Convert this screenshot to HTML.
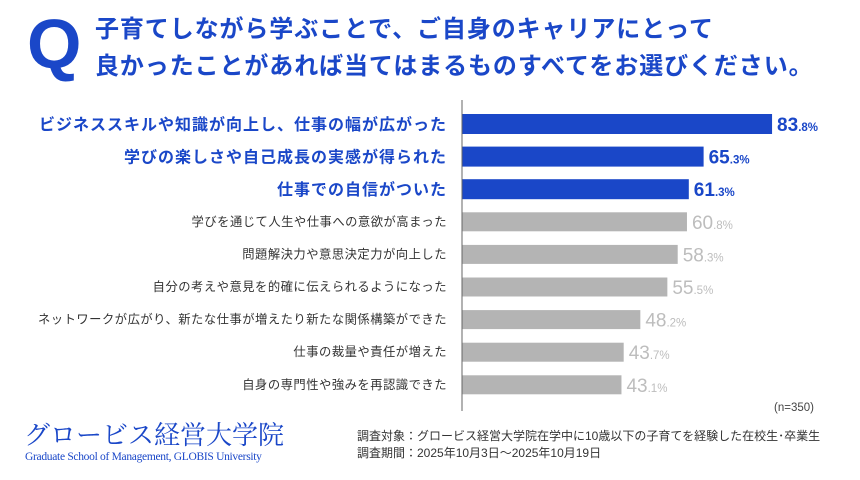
<!DOCTYPE html>
<html><head><meta charset="utf-8"><style>
body{margin:0;width:860px;height:480px;background:#fff;overflow:hidden;font-family:"Liberation Sans","Noto Sans CJK JP",sans-serif;position:relative}
.abs{position:absolute;white-space:nowrap}
</style></head><body>
<div class="abs" style="left:27px;top:2px;font-size:70px;font-weight:bold;color:#1a47c8;line-height:84px">Q</div>
<div class="abs" style="left:95px;top:11px;font-size:24px;font-weight:bold;color:#1a47c8;line-height:37px;letter-spacing:0.9px">子育てしながら学ぶことで、ご自身のキャリアにとって<br>良かったことがあれば当てはまるものすべてをお選びください。</div>
<svg id="chart" class="abs" style="left:0;top:0" width="860" height="480"></svg>
<div class="abs" style="left:774px;top:402px;font-size:11.5px;color:#444">(n=350)</div>
<div class="abs" style="left:24px;top:418px;font-family:'Noto Serif CJK SC','Liberation Serif',serif;font-size:26px;color:#1a47c8;line-height:32px">グロービス経営大学院</div>
<div class="abs" style="left:25px;top:451px;font-family:'Liberation Serif',serif;font-size:11.5px;color:#1a47c8;letter-spacing:-0.3px">Graduate School of Management, GLOBIS University</div>
<div class="abs" style="left:357px;top:428px;font-size:12px;color:#333;line-height:17px">調査対象：グロービス経営大学院在学中に10歳以下の子育てを経験した在校生･卒業生<br>調査期間：2025年10月3日〜2025年10月19日</div>
<script>
const categories=["ビジネススキルや知識が向上し、仕事の幅が広がった","学びの楽しさや自己成長の実感が得られた","仕事での自信がついた","学びを通じて人生や仕事への意欲が高まった","問題解決力や意思決定力が向上した","自分の考えや意見を的確に伝えられるようになった","ネットワークが広がり、新たな仕事が増えたり新たな関係構築ができた","仕事の裁量や責任が増えた","自身の専門性や強みを再認識できた"];
const values=[83.8,65.3,61.3,60.8,58.3,55.5,48.2,43.7,43.1];
const highlighted=[true,true,true,false,false,false,false,false,false];
const svg=document.getElementById('chart');
const NS='http://www.w3.org/2000/svg';
const x0=462,pxPer=3.7,y0=124,step=32.6;
const xs=v=>x0+v*pxPer, yc=i=>y0+i*step;
function mk(t,a){const e=document.createElementNS(NS,t);for(const k in a)e.setAttribute(k,a[k]);svg.appendChild(e);return e;}
values.forEach((v,i)=>{
 const hi=highlighted[i],h=hi?20:19;
 const r=mk('rect',{x:x0,y:yc(i)-h/2,width:xs(v)-x0,height:h,fill:hi?'#1a47c8':'#b4b4b4'});
 
 
 const l=mk('text',{x:447,y:yc(i)+(hi?6:4),'text-anchor':'end','font-size':hi?16:12.3,'letter-spacing':hi?1:0.5,'font-weight':hi?'bold':'normal',fill:hi?'#1a47c8':'#333'});
 l.textContent=categories[i];
 
 
 const s=v.toFixed(1).split('.');
 const t=mk('text',{x:xs(v)+5,y:yc(i)+7,fill:hi?'#1a47c8':'#bdbdbd','font-weight':hi?'bold':'normal'});
 t.innerHTML='<tspan font-size="19">'+s[0]+'</tspan><tspan font-size="11.5">.'+s[1]+'%</tspan>';
 
 
});
const ax=mk('line',{x1:x0,y1:100,x2:x0,y2:411,stroke:'#666','stroke-width':1});


</script>
</body></html>
